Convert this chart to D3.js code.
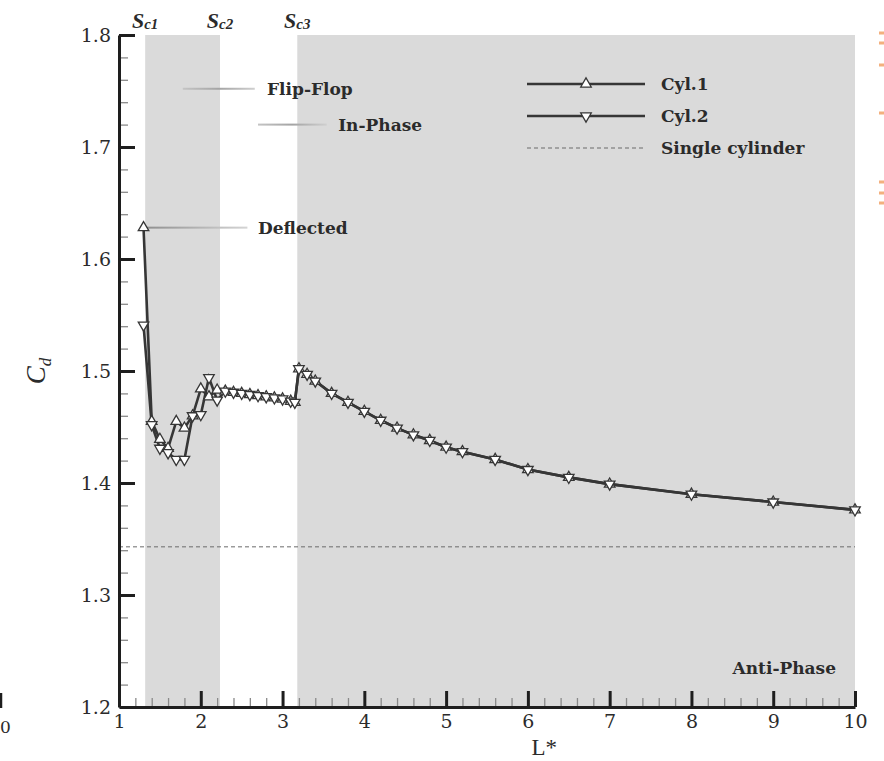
<!DOCTYPE html>
<html>
<head>
<meta charset="utf-8">
<script src="https://cdn.jsdelivr.net/npm/d3@7"></script>
<style>
  body { margin: 0; background: #fff; }
  svg { display: block; }
  text { fill: #2b2b2b; }
</style>
</head>
<body>
<svg id="chart" width="884" height="761"></svg>
<script>
// Spacing ratio L* and drag coefficients of the two cylinders
const lStar = [1.3, 1.4, 1.5, 1.6, 1.7, 1.8, 1.9, 2.0, 2.1, 2.2,
               2.3, 2.4, 2.5, 2.6, 2.7, 2.8, 2.9, 3.0, 3.1, 3.15,
               3.2, 3.3, 3.4, 3.6, 3.8, 4.0, 4.2, 4.4, 4.6, 4.8, 5.0, 5.2, 5.6,
               6.0, 6.5, 7, 8, 9, 10];
const cyl1 = [1.628, 1.455, 1.439, 1.431, 1.455, 1.449, 1.460, 1.484, 1.477, 1.483,
              1.482, 1.481, 1.480, 1.479, 1.478, 1.477, 1.476, 1.475, 1.473, 1.472,
              1.502, 1.497, 1.491, 1.480, 1.472, 1.464, 1.456, 1.449, 1.443, 1.438, 1.432, 1.428, 1.421,
              1.412, 1.405, 1.399, 1.390, 1.383, 1.376];
const cyl2 = [1.541, 1.452, 1.431, 1.427, 1.421, 1.421, 1.460, 1.461, 1.494, 1.474,
              1.482, 1.481, 1.480, 1.479, 1.478, 1.477, 1.476, 1.475, 1.473, 1.472,
              1.502, 1.497, 1.491, 1.480, 1.472, 1.464, 1.456, 1.449, 1.443, 1.438, 1.432, 1.428, 1.421,
              1.412, 1.405, 1.399, 1.390, 1.383, 1.376];
const singleCd = 1.343;

// Critical spacings separating the flow regimes
const critical = [{name: "1", value: 1.32}, {name: "2", value: 2.235}, {name: "3", value: 3.18}];
const shaded = [[1.32, 2.235], [3.18, 10]];

const xTicks = [1, 2, 3, 4, 5, 6, 7, 8, 9, 10];
const yTicks = [1.2, 1.3, 1.4, 1.5, 1.6, 1.7, 1.8];

const svg = d3.select("#chart");
const margin = {left: 119, right: 29, top: 35, bottom: 54};
const W = 884, H = 761;
const x = d3.scaleLinear().domain([1, 10]).range([margin.left, W - margin.right]);
const y = d3.scaleLinear().domain([1.2, 1.8]).range([H - margin.bottom, margin.top]);

// regime shading
svg.append("g").selectAll("rect").data(shaded).join("rect")
  .attr("x", d => x(d[0])).attr("width", d => x(d[1]) - x(d[0]))
  .attr("y", y(1.8)).attr("height", y(1.2) - y(1.8))
  .attr("fill", "#dadada");

// critical spacing labels
const sc = svg.append("g").selectAll("text").data(critical).join("text")
  .attr("x", d => x(d.value)).attr("y", 28)
  .attr("text-anchor", "middle")
  .style("font-family", "'Liberation Serif', serif")
  .style("font-style", "italic").style("font-weight", "bold");
sc.append("tspan").style("font-size", "22px").text("S");
sc.append("tspan").style("font-size", "15px").attr("dy", 1).text(d => "c" + d.name);

// single-cylinder reference
svg.append("line")
  .attr("x1", x(1)).attr("x2", x(10))
  .attr("y1", y(singleCd)).attr("y2", y(singleCd))
  .attr("stroke", "#6a6a6a").attr("stroke-width", 1).attr("stroke-dasharray", "4,3");

// annotation leader lines
const defs = svg.append("defs");
const grad = defs.append("linearGradient").attr("id", "fade").attr("x1", "0").attr("x2", "1");
grad.append("stop").attr("offset", "0").attr("stop-color", "#8e8e8e");
grad.append("stop").attr("offset", "1").attr("stop-color", "#d4d4d4");
const grad2 = defs.append("linearGradient").attr("id", "fade2").attr("x1", "0").attr("x2", "1");
grad2.append("stop").attr("offset", "0").attr("stop-color", "#c4c4c4");
grad2.append("stop").attr("offset", "0.5").attr("stop-color", "#a4a4a4");
grad2.append("stop").attr("offset", "1").attr("stop-color", "#cfcfcf");

const annoFont = "17px";
const notes = [
  {text: "Flip-Flop", x0: 1.78, x1: 2.66, yv: 1.752, tx: 2.81},
  {text: "In-Phase", x0: 2.7, x1: 3.54, yv: 1.72, tx: 3.68},
  {text: "Deflected", x0: 1.3, x1: 2.57, yv: 1.628, tx: 2.7}
];
notes.forEach((n, i) => {
  svg.append("rect")
    .attr("x", x(n.x0)).attr("width", x(n.x1) - x(n.x0))
    .attr("y", y(n.yv) - 1).attr("height", 2)
    .attr("fill", i === 2 ? "url(#fade)" : "url(#fade2)");
  svg.append("text")
    .attr("x", x(n.tx)).attr("y", y(n.yv)).attr("dy", "0.35em")
    .style("font-family", "'DejaVu Serif', serif").style("font-weight", "bold")
    .style("font-size", annoFont).text(n.text);
});

// axes: minor then major ticks, all pointing inward
const axisStyle = g => {
  g.select(".domain").attr("stroke", "#1e1e1e").attr("stroke-width", 3);
  g.selectAll("text").style("font-family", "'DejaVu Serif', serif").style("font-size", "19px").attr("fill", "#2b2b2b");
};
svg.append("g").attr("transform", `translate(0,${y(1.2)})`)
  .call(d3.axisBottom(x).tickValues(d3.range(1, 10.01, 0.2)).tickSize(-9).tickSizeOuter(0).tickFormat(""))
  .call(g => { g.select(".domain").remove(); g.selectAll("line").attr("stroke", "#8a8a8a").attr("stroke-width", 1.3); });
svg.append("g").attr("transform", `translate(${x(1)},0)`)
  .call(d3.axisLeft(y).tickValues(d3.range(1.2, 1.801, 0.02)).tickSize(-9).tickSizeOuter(0).tickFormat(""))
  .call(g => { g.select(".domain").remove(); g.selectAll("line").attr("stroke", "#8a8a8a").attr("stroke-width", 1.3); });

svg.append("g").attr("transform", `translate(0,${y(1.2)})`)
  .call(d3.axisBottom(x).tickValues(xTicks).tickSize(-16).tickSizeOuter(0).tickPadding(8).tickFormat(d3.format("d")))
  .call(axisStyle)
  .call(g => g.selectAll(".tick line").attr("stroke", "#1e1e1e").attr("stroke-width", 3));
svg.append("g").attr("transform", `translate(${x(1)},0)`)
  .call(d3.axisLeft(y).tickValues(yTicks).tickSize(-16).tickSizeOuter(0).tickPadding(8).tickFormat(d3.format(".1f")))
  .call(axisStyle)
  .call(g => g.selectAll(".tick line").attr("stroke", "#1e1e1e").attr("stroke-width", 3))
  .call(g => g.selectAll(".tick line").filter(d => Math.abs(d - 1.2) < 1e-9).remove());

// axis titles
svg.append("text")
  .attr("x", x(6.2)).attr("y", 755).attr("text-anchor", "middle")
  .style("font-family", "'Liberation Serif', serif").style("font-size", "23px").text("L*");
const cd = svg.append("text")
  .attr("transform", `translate(45,${y(1.5)}) rotate(-90)`)
  .attr("text-anchor", "middle")
  .style("font-family", "'Liberation Serif', serif").style("font-style", "italic").style("font-size", "27px");
cd.append("tspan").text("C");
cd.append("tspan").attr("dy", 6).style("font-size", "17px").text("d");

// series
const line = d3.line().x(d => x(d[0])).y(d => y(d[1]));
const series = [
  {name: "Cyl.1", values: cyl1, rot: 0},
  {name: "Cyl.2", values: cyl2, rot: 180}
];
const tri = d3.symbol().type(d3.symbolTriangle).size(48);
series.forEach(s => {
  const pts = lStar.map((l, i) => [l, s.values[i]]);
  svg.append("path").datum(pts).attr("d", line)
    .attr("fill", "none").attr("stroke", "#363636").attr("stroke-width", 2.6);
});
series.forEach(s => {
  const pts = lStar.map((l, i) => [l, s.values[i]]);
  svg.append("g").selectAll("path").data(pts).join("path")
    .attr("d", tri)
    .attr("transform", d => `translate(${x(d[0])},${y(d[1])}) rotate(${s.rot})`)
    .attr("fill", "#fff").attr("stroke", "#363636").attr("stroke-width", 1.3);
});

// legend
const legend = svg.append("g");
const lx0 = 527, lx1 = 645, ly = [84, 116, 148];
series.forEach((s, i) => {
  legend.append("line").attr("x1", lx0).attr("x2", lx1).attr("y1", ly[i]).attr("y2", ly[i])
    .attr("stroke", "#363636").attr("stroke-width", 2.6);
  legend.append("path").attr("d", tri)
    .attr("transform", `translate(${(lx0 + lx1) / 2},${ly[i]}) rotate(${s.rot})`)
    .attr("fill", "#fff").attr("stroke", "#363636").attr("stroke-width", 1.3);
  legend.append("text").attr("x", 661).attr("y", ly[i]).attr("dy", "0.35em")
    .style("font-family", "'DejaVu Serif', serif").style("font-weight", "bold").style("font-size", annoFont)
    .text(s.name);
});
legend.append("line").attr("x1", lx0).attr("x2", lx1).attr("y1", ly[2]).attr("y2", ly[2])
  .attr("stroke", "#6a6a6a").attr("stroke-width", 1).attr("stroke-dasharray", "4,3");
legend.append("text").attr("x", 661).attr("y", ly[2]).attr("dy", "0.35em")
  .style("font-family", "'DejaVu Serif', serif").style("font-weight", "bold").style("font-size", annoFont)
  .text("Single cylinder");

svg.append("text").attr("x", 836).attr("y", 668).attr("dy", "0.35em").attr("text-anchor", "end")
  .style("font-family", "'DejaVu Serif', serif").style("font-weight", "bold").style("font-size", annoFont)
  .text("Anti-Phase");

// neighbouring panel edges
svg.append("text").attr("x", 0).attr("y", 733)
  .style("font-family", "'DejaVu Serif', serif").style("font-size", "17px").text("0");
svg.append("line").attr("x1", 1).attr("x2", 1).attr("y1", 693).attr("y2", 708)
  .attr("stroke", "#1e1e1e").attr("stroke-width", 2.5);
const orangeMarks = [33, 43, 65, 113, 182, 193, 203];
svg.append("g").selectAll("rect").data(orangeMarks).join("rect")
  .attr("x", 879).attr("y", d => d - 1.5).attr("width", 5).attr("height", 3)
  .attr("fill", "#f3b07e");
</script>
</body>
</html>
